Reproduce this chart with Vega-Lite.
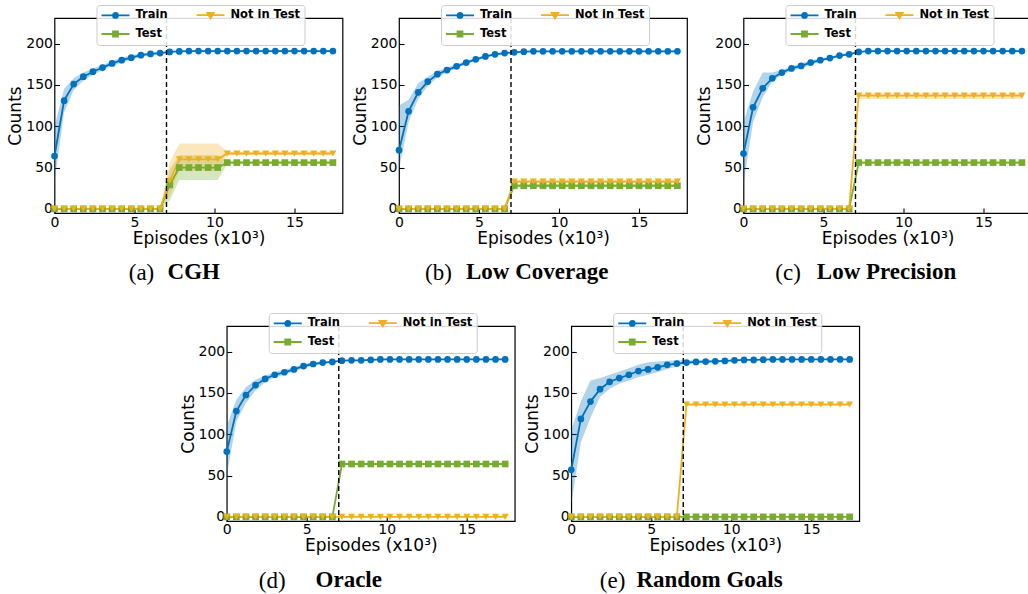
{
"$schema": "https://vega.github.io/schema/vega-lite/v6.json",
"padding": {"left": 5.3, "top": 3, "right": 5, "bottom": 5},
"config": {
 "view": {"stroke": "black", "strokeWidth": 1.2},
 "axis": {"domain": false, "grid": false, "tickSize": -5, "tickColor": "black", "tickWidth": 1.1, "labelPadding": 7, "labelFont": "DejaVu Sans", "labelFontSize": 14, "labelColor": "black", "labelFlush": false, "labelOverlap": false, "titleFont": "DejaVu Sans", "titleFontSize": 17, "titleFontWeight": "normal", "titleColor": "black"},
 "axisX": {"titlePadding": 1},
 "axisY": {"titlePadding": 1},
 "title": {"color": "black"}
},
"datasets": {
"a": [
{"s":"Train","x":0,"y":64,"l":32,"h":100},
{"s":"Train","x":0.6,"y":131,"l":117,"h":145},
{"s":"Train","x":1.2,"y":151,"l":144,"h":158},
{"s":"Train","x":1.8,"y":160,"l":155,"h":165},
{"s":"Train","x":2.4,"y":166,"l":162,"h":170},
{"s":"Train","x":3,"y":171,"l":168,"h":174},
{"s":"Train","x":3.6,"y":176,"l":173,"h":179},
{"s":"Train","x":4.2,"y":180,"l":177,"h":183},
{"s":"Train","x":4.8,"y":183,"l":180,"h":186},
{"s":"Train","x":5.4,"y":186,"l":184,"h":188},
{"s":"Train","x":6,"y":187.5,"l":186,"h":189},
{"s":"Train","x":6.6,"y":188.5,"l":187,"h":190},
{"s":"Train","x":7.2,"y":190,"l":189.5,"h":190.5},
{"s":"Train","x":7.8,"y":190.5,"l":190,"h":191},
{"s":"Train","x":8.4,"y":191,"l":190.5,"h":191.5},
{"s":"Train","x":9,"y":191,"l":190.5,"h":191.5},
{"s":"Train","x":9.6,"y":191,"l":190.5,"h":191.5},
{"s":"Train","x":10.2,"y":191,"l":190.5,"h":191.5},
{"s":"Train","x":10.8,"y":191,"l":190.5,"h":191.5},
{"s":"Train","x":11.4,"y":191,"l":190.5,"h":191.5},
{"s":"Train","x":12,"y":191,"l":190.5,"h":191.5},
{"s":"Train","x":12.6,"y":191,"l":190.5,"h":191.5},
{"s":"Train","x":13.2,"y":191,"l":190.5,"h":191.5},
{"s":"Train","x":13.8,"y":191,"l":190.5,"h":191.5},
{"s":"Train","x":14.4,"y":191,"l":190.5,"h":191.5},
{"s":"Train","x":15,"y":191,"l":190.5,"h":191.5},
{"s":"Train","x":15.6,"y":191,"l":190.5,"h":191.5},
{"s":"Train","x":16.2,"y":191,"l":190.5,"h":191.5},
{"s":"Train","x":16.8,"y":191,"l":190.5,"h":191.5},
{"s":"Train","x":17.4,"y":191,"l":190.5,"h":191.5},
{"s":"Test","x":0,"y":0,"l":0,"h":0},
{"s":"Test","x":0.6,"y":0,"l":0,"h":0},
{"s":"Test","x":1.2,"y":0,"l":0,"h":0},
{"s":"Test","x":1.8,"y":0,"l":0,"h":0},
{"s":"Test","x":2.4,"y":0,"l":0,"h":0},
{"s":"Test","x":3,"y":0,"l":0,"h":0},
{"s":"Test","x":3.6,"y":0,"l":0,"h":0},
{"s":"Test","x":4.2,"y":0,"l":0,"h":0},
{"s":"Test","x":4.8,"y":0,"l":0,"h":0},
{"s":"Test","x":5.4,"y":0,"l":0,"h":0},
{"s":"Test","x":6,"y":0,"l":0,"h":0},
{"s":"Test","x":6.6,"y":0,"l":0,"h":0},
{"s":"Test","x":7.2,"y":29,"l":10,"h":48},
{"s":"Test","x":7.8,"y":50,"l":35,"h":65},
{"s":"Test","x":8.4,"y":50,"l":35,"h":65},
{"s":"Test","x":9,"y":50,"l":35,"h":65},
{"s":"Test","x":9.6,"y":50,"l":35,"h":65},
{"s":"Test","x":10.2,"y":50,"l":35,"h":65},
{"s":"Test","x":10.8,"y":56,"l":54,"h":58},
{"s":"Test","x":11.4,"y":56,"l":54,"h":58},
{"s":"Test","x":12,"y":56,"l":54,"h":58},
{"s":"Test","x":12.6,"y":56,"l":54,"h":58},
{"s":"Test","x":13.2,"y":56,"l":54,"h":58},
{"s":"Test","x":13.8,"y":56,"l":54,"h":58},
{"s":"Test","x":14.4,"y":56,"l":54,"h":58},
{"s":"Test","x":15,"y":56,"l":54,"h":58},
{"s":"Test","x":15.6,"y":56,"l":54,"h":58},
{"s":"Test","x":16.2,"y":56,"l":54,"h":58},
{"s":"Test","x":16.8,"y":56,"l":54,"h":58},
{"s":"Test","x":17.4,"y":56,"l":54,"h":58},
{"s":"Not in Test","x":0,"y":0,"l":0,"h":0},
{"s":"Not in Test","x":0.6,"y":0,"l":0,"h":0},
{"s":"Not in Test","x":1.2,"y":0,"l":0,"h":0},
{"s":"Not in Test","x":1.8,"y":0,"l":0,"h":0},
{"s":"Not in Test","x":2.4,"y":0,"l":0,"h":0},
{"s":"Not in Test","x":3,"y":0,"l":0,"h":0},
{"s":"Not in Test","x":3.6,"y":0,"l":0,"h":0},
{"s":"Not in Test","x":4.2,"y":0,"l":0,"h":0},
{"s":"Not in Test","x":4.8,"y":0,"l":0,"h":0},
{"s":"Not in Test","x":5.4,"y":0,"l":0,"h":0},
{"s":"Not in Test","x":6,"y":0,"l":0,"h":0},
{"s":"Not in Test","x":6.6,"y":0,"l":0,"h":0},
{"s":"Not in Test","x":7.2,"y":34,"l":15,"h":56},
{"s":"Not in Test","x":7.8,"y":60,"l":46,"h":79},
{"s":"Not in Test","x":8.4,"y":60,"l":46,"h":79},
{"s":"Not in Test","x":9,"y":60,"l":46,"h":79},
{"s":"Not in Test","x":9.6,"y":60,"l":46,"h":79},
{"s":"Not in Test","x":10.2,"y":60,"l":46,"h":79},
{"s":"Not in Test","x":10.8,"y":67,"l":65,"h":69},
{"s":"Not in Test","x":11.4,"y":67,"l":65,"h":69},
{"s":"Not in Test","x":12,"y":67,"l":65,"h":69},
{"s":"Not in Test","x":12.6,"y":67,"l":65,"h":69},
{"s":"Not in Test","x":13.2,"y":67,"l":65,"h":69},
{"s":"Not in Test","x":13.8,"y":67,"l":65,"h":69},
{"s":"Not in Test","x":14.4,"y":67,"l":65,"h":69},
{"s":"Not in Test","x":15,"y":67,"l":65,"h":69},
{"s":"Not in Test","x":15.6,"y":67,"l":65,"h":69},
{"s":"Not in Test","x":16.2,"y":67,"l":65,"h":69},
{"s":"Not in Test","x":16.8,"y":67,"l":65,"h":69},
{"s":"Not in Test","x":17.4,"y":67,"l":65,"h":69}
],
"b": [
{"s":"Train","x":0,"y":71,"l":48,"h":125},
{"s":"Train","x":0.6,"y":118,"l":105,"h":132},
{"s":"Train","x":1.2,"y":141,"l":133,"h":152},
{"s":"Train","x":1.8,"y":154,"l":149,"h":160},
{"s":"Train","x":2.4,"y":163,"l":159,"h":167},
{"s":"Train","x":3,"y":168,"l":165,"h":171},
{"s":"Train","x":3.6,"y":172.5,"l":170,"h":175},
{"s":"Train","x":4.2,"y":177,"l":175,"h":179},
{"s":"Train","x":4.8,"y":181,"l":179,"h":183},
{"s":"Train","x":5.4,"y":184.5,"l":183,"h":186},
{"s":"Train","x":6,"y":187,"l":185.5,"h":188.5},
{"s":"Train","x":6.6,"y":188.5,"l":187.5,"h":189.5},
{"s":"Train","x":7.2,"y":189.5,"l":189,"h":190},
{"s":"Train","x":7.8,"y":190.3,"l":189.8,"h":190.8},
{"s":"Train","x":8.4,"y":190.7,"l":190.2,"h":191.2},
{"s":"Train","x":9,"y":190.7,"l":190.2,"h":191.2},
{"s":"Train","x":9.6,"y":190.7,"l":190.2,"h":191.2},
{"s":"Train","x":10.2,"y":190.7,"l":190.2,"h":191.2},
{"s":"Train","x":10.8,"y":190.7,"l":190.2,"h":191.2},
{"s":"Train","x":11.4,"y":190.7,"l":190.2,"h":191.2},
{"s":"Train","x":12,"y":190.7,"l":190.2,"h":191.2},
{"s":"Train","x":12.6,"y":190.7,"l":190.2,"h":191.2},
{"s":"Train","x":13.2,"y":190.7,"l":190.2,"h":191.2},
{"s":"Train","x":13.8,"y":190.7,"l":190.2,"h":191.2},
{"s":"Train","x":14.4,"y":190.7,"l":190.2,"h":191.2},
{"s":"Train","x":15,"y":190.7,"l":190.2,"h":191.2},
{"s":"Train","x":15.6,"y":190.7,"l":190.2,"h":191.2},
{"s":"Train","x":16.2,"y":190.7,"l":190.2,"h":191.2},
{"s":"Train","x":16.8,"y":190.7,"l":190.2,"h":191.2},
{"s":"Train","x":17.4,"y":190.7,"l":190.2,"h":191.2},
{"s":"Test","x":0,"y":0,"l":0,"h":0},
{"s":"Test","x":0.6,"y":0,"l":0,"h":0},
{"s":"Test","x":1.2,"y":0,"l":0,"h":0},
{"s":"Test","x":1.8,"y":0,"l":0,"h":0},
{"s":"Test","x":2.4,"y":0,"l":0,"h":0},
{"s":"Test","x":3,"y":0,"l":0,"h":0},
{"s":"Test","x":3.6,"y":0,"l":0,"h":0},
{"s":"Test","x":4.2,"y":0,"l":0,"h":0},
{"s":"Test","x":4.8,"y":0,"l":0,"h":0},
{"s":"Test","x":5.4,"y":0,"l":0,"h":0},
{"s":"Test","x":6,"y":0,"l":0,"h":0},
{"s":"Test","x":6.6,"y":0,"l":0,"h":0},
{"s":"Test","x":7.2,"y":28,"l":26,"h":30},
{"s":"Test","x":7.8,"y":28,"l":26,"h":30},
{"s":"Test","x":8.4,"y":28,"l":26,"h":30},
{"s":"Test","x":9,"y":28,"l":26,"h":30},
{"s":"Test","x":9.6,"y":28,"l":26,"h":30},
{"s":"Test","x":10.2,"y":28,"l":26,"h":30},
{"s":"Test","x":10.8,"y":28,"l":26,"h":30},
{"s":"Test","x":11.4,"y":28,"l":26,"h":30},
{"s":"Test","x":12,"y":28,"l":26,"h":30},
{"s":"Test","x":12.6,"y":28,"l":26,"h":30},
{"s":"Test","x":13.2,"y":28,"l":26,"h":30},
{"s":"Test","x":13.8,"y":28,"l":26,"h":30},
{"s":"Test","x":14.4,"y":28,"l":26,"h":30},
{"s":"Test","x":15,"y":28,"l":26,"h":30},
{"s":"Test","x":15.6,"y":28,"l":26,"h":30},
{"s":"Test","x":16.2,"y":28,"l":26,"h":30},
{"s":"Test","x":16.8,"y":28,"l":26,"h":30},
{"s":"Test","x":17.4,"y":28,"l":26,"h":30},
{"s":"Not in Test","x":0,"y":0,"l":0,"h":0},
{"s":"Not in Test","x":0.6,"y":0,"l":0,"h":0},
{"s":"Not in Test","x":1.2,"y":0,"l":0,"h":0},
{"s":"Not in Test","x":1.8,"y":0,"l":0,"h":0},
{"s":"Not in Test","x":2.4,"y":0,"l":0,"h":0},
{"s":"Not in Test","x":3,"y":0,"l":0,"h":0},
{"s":"Not in Test","x":3.6,"y":0,"l":0,"h":0},
{"s":"Not in Test","x":4.2,"y":0,"l":0,"h":0},
{"s":"Not in Test","x":4.8,"y":0,"l":0,"h":0},
{"s":"Not in Test","x":5.4,"y":0,"l":0,"h":0},
{"s":"Not in Test","x":6,"y":0,"l":0,"h":0},
{"s":"Not in Test","x":6.6,"y":0,"l":0,"h":0},
{"s":"Not in Test","x":7.2,"y":33,"l":31,"h":35},
{"s":"Not in Test","x":7.8,"y":33,"l":31,"h":35},
{"s":"Not in Test","x":8.4,"y":33,"l":31,"h":35},
{"s":"Not in Test","x":9,"y":33,"l":31,"h":35},
{"s":"Not in Test","x":9.6,"y":33,"l":31,"h":35},
{"s":"Not in Test","x":10.2,"y":33,"l":31,"h":35},
{"s":"Not in Test","x":10.8,"y":33,"l":31,"h":35},
{"s":"Not in Test","x":11.4,"y":33,"l":31,"h":35},
{"s":"Not in Test","x":12,"y":33,"l":31,"h":35},
{"s":"Not in Test","x":12.6,"y":33,"l":31,"h":35},
{"s":"Not in Test","x":13.2,"y":33,"l":31,"h":35},
{"s":"Not in Test","x":13.8,"y":33,"l":31,"h":35},
{"s":"Not in Test","x":14.4,"y":33,"l":31,"h":35},
{"s":"Not in Test","x":15,"y":33,"l":31,"h":35},
{"s":"Not in Test","x":15.6,"y":33,"l":31,"h":35},
{"s":"Not in Test","x":16.2,"y":33,"l":31,"h":35},
{"s":"Not in Test","x":16.8,"y":33,"l":31,"h":35},
{"s":"Not in Test","x":17.4,"y":33,"l":31,"h":35}
],
"c": [
{"s":"Train","x":0,"y":67,"l":30,"h":105},
{"s":"Train","x":0.6,"y":123,"l":105,"h":142},
{"s":"Train","x":1.2,"y":146,"l":135,"h":165},
{"s":"Train","x":1.8,"y":158,"l":154,"h":165},
{"s":"Train","x":2.4,"y":165,"l":162,"h":168},
{"s":"Train","x":3,"y":170,"l":167,"h":173},
{"s":"Train","x":3.6,"y":173,"l":170,"h":176},
{"s":"Train","x":4.2,"y":177,"l":174,"h":180},
{"s":"Train","x":4.8,"y":180,"l":178,"h":182},
{"s":"Train","x":5.4,"y":182.5,"l":181,"h":184},
{"s":"Train","x":6,"y":185.5,"l":184,"h":187},
{"s":"Train","x":6.6,"y":187,"l":186,"h":188.5},
{"s":"Train","x":7.2,"y":190,"l":189.5,"h":190.5},
{"s":"Train","x":7.8,"y":191,"l":190.5,"h":191.5},
{"s":"Train","x":8.4,"y":191,"l":190.5,"h":191.5},
{"s":"Train","x":9,"y":191,"l":190.5,"h":191.5},
{"s":"Train","x":9.6,"y":191,"l":190.5,"h":191.5},
{"s":"Train","x":10.2,"y":191,"l":190.5,"h":191.5},
{"s":"Train","x":10.8,"y":191,"l":190.5,"h":191.5},
{"s":"Train","x":11.4,"y":191,"l":190.5,"h":191.5},
{"s":"Train","x":12,"y":191,"l":190.5,"h":191.5},
{"s":"Train","x":12.6,"y":191,"l":190.5,"h":191.5},
{"s":"Train","x":13.2,"y":191,"l":190.5,"h":191.5},
{"s":"Train","x":13.8,"y":191,"l":190.5,"h":191.5},
{"s":"Train","x":14.4,"y":191,"l":190.5,"h":191.5},
{"s":"Train","x":15,"y":191,"l":190.5,"h":191.5},
{"s":"Train","x":15.6,"y":191,"l":190.5,"h":191.5},
{"s":"Train","x":16.2,"y":191,"l":190.5,"h":191.5},
{"s":"Train","x":16.8,"y":191,"l":190.5,"h":191.5},
{"s":"Train","x":17.4,"y":191,"l":190.5,"h":191.5},
{"s":"Test","x":0,"y":0,"l":0,"h":0},
{"s":"Test","x":0.6,"y":0,"l":0,"h":0},
{"s":"Test","x":1.2,"y":0,"l":0,"h":0},
{"s":"Test","x":1.8,"y":0,"l":0,"h":0},
{"s":"Test","x":2.4,"y":0,"l":0,"h":0},
{"s":"Test","x":3,"y":0,"l":0,"h":0},
{"s":"Test","x":3.6,"y":0,"l":0,"h":0},
{"s":"Test","x":4.2,"y":0,"l":0,"h":0},
{"s":"Test","x":4.8,"y":0,"l":0,"h":0},
{"s":"Test","x":5.4,"y":0,"l":0,"h":0},
{"s":"Test","x":6,"y":0,"l":0,"h":0},
{"s":"Test","x":6.6,"y":0,"l":0,"h":0},
{"s":"Test","x":7.2,"y":56,"l":54.5,"h":57.5},
{"s":"Test","x":7.8,"y":56,"l":54.5,"h":57.5},
{"s":"Test","x":8.4,"y":56,"l":54.5,"h":57.5},
{"s":"Test","x":9,"y":56,"l":54.5,"h":57.5},
{"s":"Test","x":9.6,"y":56,"l":54.5,"h":57.5},
{"s":"Test","x":10.2,"y":56,"l":54.5,"h":57.5},
{"s":"Test","x":10.8,"y":56,"l":54.5,"h":57.5},
{"s":"Test","x":11.4,"y":56,"l":54.5,"h":57.5},
{"s":"Test","x":12,"y":56,"l":54.5,"h":57.5},
{"s":"Test","x":12.6,"y":56,"l":54.5,"h":57.5},
{"s":"Test","x":13.2,"y":56,"l":54.5,"h":57.5},
{"s":"Test","x":13.8,"y":56,"l":54.5,"h":57.5},
{"s":"Test","x":14.4,"y":56,"l":54.5,"h":57.5},
{"s":"Test","x":15,"y":56,"l":54.5,"h":57.5},
{"s":"Test","x":15.6,"y":56,"l":54.5,"h":57.5},
{"s":"Test","x":16.2,"y":56,"l":54.5,"h":57.5},
{"s":"Test","x":16.8,"y":56,"l":54.5,"h":57.5},
{"s":"Test","x":17.4,"y":56,"l":54.5,"h":57.5},
{"s":"Not in Test","x":0,"y":0,"l":0,"h":0},
{"s":"Not in Test","x":0.6,"y":0,"l":0,"h":0},
{"s":"Not in Test","x":1.2,"y":0,"l":0,"h":0},
{"s":"Not in Test","x":1.8,"y":0,"l":0,"h":0},
{"s":"Not in Test","x":2.4,"y":0,"l":0,"h":0},
{"s":"Not in Test","x":3,"y":0,"l":0,"h":0},
{"s":"Not in Test","x":3.6,"y":0,"l":0,"h":0},
{"s":"Not in Test","x":4.2,"y":0,"l":0,"h":0},
{"s":"Not in Test","x":4.8,"y":0,"l":0,"h":0},
{"s":"Not in Test","x":5.4,"y":0,"l":0,"h":0},
{"s":"Not in Test","x":6,"y":0,"l":0,"h":0},
{"s":"Not in Test","x":6.6,"y":0,"l":0,"h":0},
{"s":"Not in Test","x":7.2,"y":137,"l":133,"h":140},
{"s":"Not in Test","x":7.8,"y":137,"l":133,"h":140},
{"s":"Not in Test","x":8.4,"y":137,"l":133,"h":140},
{"s":"Not in Test","x":9,"y":137,"l":133,"h":140},
{"s":"Not in Test","x":9.6,"y":137,"l":133,"h":140},
{"s":"Not in Test","x":10.2,"y":137,"l":133,"h":140},
{"s":"Not in Test","x":10.8,"y":137,"l":133,"h":140},
{"s":"Not in Test","x":11.4,"y":137,"l":133,"h":140},
{"s":"Not in Test","x":12,"y":137,"l":133,"h":140},
{"s":"Not in Test","x":12.6,"y":137,"l":133,"h":140},
{"s":"Not in Test","x":13.2,"y":137,"l":133,"h":140},
{"s":"Not in Test","x":13.8,"y":137,"l":133,"h":140},
{"s":"Not in Test","x":14.4,"y":137,"l":133,"h":140},
{"s":"Not in Test","x":15,"y":137,"l":133,"h":140},
{"s":"Not in Test","x":15.6,"y":137,"l":133,"h":140},
{"s":"Not in Test","x":16.2,"y":137,"l":133,"h":140},
{"s":"Not in Test","x":16.8,"y":137,"l":133,"h":140},
{"s":"Not in Test","x":17.4,"y":137,"l":133,"h":140}
],
"d": [
{"s":"Train","x":0,"y":79,"l":50,"h":110},
{"s":"Train","x":0.6,"y":128,"l":115,"h":142},
{"s":"Train","x":1.2,"y":147.5,"l":138,"h":157},
{"s":"Train","x":1.8,"y":159.5,"l":153,"h":166},
{"s":"Train","x":2.4,"y":167,"l":163,"h":171},
{"s":"Train","x":3,"y":172,"l":169,"h":175},
{"s":"Train","x":3.6,"y":175,"l":172,"h":178},
{"s":"Train","x":4.2,"y":178.5,"l":176,"h":181},
{"s":"Train","x":4.8,"y":182.5,"l":180,"h":185},
{"s":"Train","x":5.4,"y":185,"l":183,"h":187},
{"s":"Train","x":6,"y":186.7,"l":185,"h":188},
{"s":"Train","x":6.6,"y":187.5,"l":186.5,"h":188.5},
{"s":"Train","x":7.2,"y":189,"l":188.3,"h":189.7},
{"s":"Train","x":7.8,"y":189.5,"l":188.8,"h":190.2},
{"s":"Train","x":8.4,"y":189.5,"l":188.8,"h":190.2},
{"s":"Train","x":9,"y":190,"l":189.3,"h":190.7},
{"s":"Train","x":9.6,"y":190.5,"l":189.8,"h":191.2},
{"s":"Train","x":10.2,"y":190.5,"l":189.8,"h":191.2},
{"s":"Train","x":10.8,"y":190.5,"l":189.8,"h":191.2},
{"s":"Train","x":11.4,"y":190.5,"l":189.8,"h":191.2},
{"s":"Train","x":12,"y":190.5,"l":189.8,"h":191.2},
{"s":"Train","x":12.6,"y":190.5,"l":189.8,"h":191.2},
{"s":"Train","x":13.2,"y":190.5,"l":189.8,"h":191.2},
{"s":"Train","x":13.8,"y":190.5,"l":189.8,"h":191.2},
{"s":"Train","x":14.4,"y":190.5,"l":189.8,"h":191.2},
{"s":"Train","x":15,"y":190.5,"l":189.8,"h":191.2},
{"s":"Train","x":15.6,"y":190.5,"l":189.8,"h":191.2},
{"s":"Train","x":16.2,"y":190.5,"l":189.8,"h":191.2},
{"s":"Train","x":16.8,"y":190.5,"l":189.8,"h":191.2},
{"s":"Train","x":17.4,"y":190.5,"l":189.8,"h":191.2},
{"s":"Test","x":0,"y":0,"l":0,"h":0},
{"s":"Test","x":0.6,"y":0,"l":0,"h":0},
{"s":"Test","x":1.2,"y":0,"l":0,"h":0},
{"s":"Test","x":1.8,"y":0,"l":0,"h":0},
{"s":"Test","x":2.4,"y":0,"l":0,"h":0},
{"s":"Test","x":3,"y":0,"l":0,"h":0},
{"s":"Test","x":3.6,"y":0,"l":0,"h":0},
{"s":"Test","x":4.2,"y":0,"l":0,"h":0},
{"s":"Test","x":4.8,"y":0,"l":0,"h":0},
{"s":"Test","x":5.4,"y":0,"l":0,"h":0},
{"s":"Test","x":6,"y":0,"l":0,"h":0},
{"s":"Test","x":6.6,"y":0,"l":0,"h":0},
{"s":"Test","x":7.2,"y":64,"l":63,"h":65},
{"s":"Test","x":7.8,"y":64,"l":63,"h":65},
{"s":"Test","x":8.4,"y":64,"l":63,"h":65},
{"s":"Test","x":9,"y":64,"l":63,"h":65},
{"s":"Test","x":9.6,"y":64,"l":63,"h":65},
{"s":"Test","x":10.2,"y":64,"l":63,"h":65},
{"s":"Test","x":10.8,"y":64,"l":63,"h":65},
{"s":"Test","x":11.4,"y":64,"l":63,"h":65},
{"s":"Test","x":12,"y":64,"l":63,"h":65},
{"s":"Test","x":12.6,"y":64,"l":63,"h":65},
{"s":"Test","x":13.2,"y":64,"l":63,"h":65},
{"s":"Test","x":13.8,"y":64,"l":63,"h":65},
{"s":"Test","x":14.4,"y":64,"l":63,"h":65},
{"s":"Test","x":15,"y":64,"l":63,"h":65},
{"s":"Test","x":15.6,"y":64,"l":63,"h":65},
{"s":"Test","x":16.2,"y":64,"l":63,"h":65},
{"s":"Test","x":16.8,"y":64,"l":63,"h":65},
{"s":"Test","x":17.4,"y":64,"l":63,"h":65},
{"s":"Not in Test","x":0,"y":0,"l":0,"h":0},
{"s":"Not in Test","x":0.6,"y":0,"l":0,"h":0},
{"s":"Not in Test","x":1.2,"y":0,"l":0,"h":0},
{"s":"Not in Test","x":1.8,"y":0,"l":0,"h":0},
{"s":"Not in Test","x":2.4,"y":0,"l":0,"h":0},
{"s":"Not in Test","x":3,"y":0,"l":0,"h":0},
{"s":"Not in Test","x":3.6,"y":0,"l":0,"h":0},
{"s":"Not in Test","x":4.2,"y":0,"l":0,"h":0},
{"s":"Not in Test","x":4.8,"y":0,"l":0,"h":0},
{"s":"Not in Test","x":5.4,"y":0,"l":0,"h":0},
{"s":"Not in Test","x":6,"y":0,"l":0,"h":0},
{"s":"Not in Test","x":6.6,"y":0,"l":0,"h":0},
{"s":"Not in Test","x":7.2,"y":0,"l":0,"h":0},
{"s":"Not in Test","x":7.8,"y":0,"l":0,"h":0},
{"s":"Not in Test","x":8.4,"y":0,"l":0,"h":0},
{"s":"Not in Test","x":9,"y":0,"l":0,"h":0},
{"s":"Not in Test","x":9.6,"y":0,"l":0,"h":0},
{"s":"Not in Test","x":10.2,"y":0,"l":0,"h":0},
{"s":"Not in Test","x":10.8,"y":0,"l":0,"h":0},
{"s":"Not in Test","x":11.4,"y":0,"l":0,"h":0},
{"s":"Not in Test","x":12,"y":0,"l":0,"h":0},
{"s":"Not in Test","x":12.6,"y":0,"l":0,"h":0},
{"s":"Not in Test","x":13.2,"y":0,"l":0,"h":0},
{"s":"Not in Test","x":13.8,"y":0,"l":0,"h":0},
{"s":"Not in Test","x":14.4,"y":0,"l":0,"h":0},
{"s":"Not in Test","x":15,"y":0,"l":0,"h":0},
{"s":"Not in Test","x":15.6,"y":0,"l":0,"h":0},
{"s":"Not in Test","x":16.2,"y":0,"l":0,"h":0},
{"s":"Not in Test","x":16.8,"y":0,"l":0,"h":0},
{"s":"Not in Test","x":17.4,"y":0,"l":0,"h":0}
],
"e": [
{"s":"Train","x":0,"y":57,"l":15,"h":105},
{"s":"Train","x":0.6,"y":118.5,"l":90,"h":140},
{"s":"Train","x":1.2,"y":139.5,"l":120,"h":165},
{"s":"Train","x":1.8,"y":154.5,"l":145,"h":168},
{"s":"Train","x":2.4,"y":163.5,"l":155,"h":172},
{"s":"Train","x":3,"y":168,"l":161,"h":176},
{"s":"Train","x":3.6,"y":172,"l":165,"h":180},
{"s":"Train","x":4.2,"y":176.5,"l":169,"h":184},
{"s":"Train","x":4.8,"y":178.5,"l":172,"h":187},
{"s":"Train","x":5.4,"y":181,"l":175,"h":188},
{"s":"Train","x":6,"y":184,"l":179,"h":189},
{"s":"Train","x":6.6,"y":185.5,"l":182,"h":189.5},
{"s":"Train","x":7.2,"y":186.7,"l":184.5,"h":189.5},
{"s":"Train","x":7.8,"y":187.5,"l":186,"h":189.5},
{"s":"Train","x":8.4,"y":188,"l":186.5,"h":189.8},
{"s":"Train","x":9,"y":188.3,"l":187,"h":190},
{"s":"Train","x":9.6,"y":188.7,"l":187.5,"h":190},
{"s":"Train","x":10.2,"y":189.5,"l":188.5,"h":190.5},
{"s":"Train","x":10.8,"y":190,"l":189.3,"h":190.7},
{"s":"Train","x":11.4,"y":190,"l":189.3,"h":190.7},
{"s":"Train","x":12,"y":190.3,"l":189.6,"h":191},
{"s":"Train","x":12.6,"y":190.5,"l":189.8,"h":191.2},
{"s":"Train","x":13.2,"y":190.5,"l":189.8,"h":191.2},
{"s":"Train","x":13.8,"y":190.5,"l":189.8,"h":191.2},
{"s":"Train","x":14.4,"y":190.5,"l":189.8,"h":191.2},
{"s":"Train","x":15,"y":190.5,"l":189.8,"h":191.2},
{"s":"Train","x":15.6,"y":190.5,"l":189.8,"h":191.2},
{"s":"Train","x":16.2,"y":190.5,"l":189.8,"h":191.2},
{"s":"Train","x":16.8,"y":190.5,"l":189.8,"h":191.2},
{"s":"Train","x":17.4,"y":190.5,"l":189.8,"h":191.2},
{"s":"Test","x":0,"y":0,"l":0,"h":0},
{"s":"Test","x":0.6,"y":0,"l":0,"h":0},
{"s":"Test","x":1.2,"y":0,"l":0,"h":0},
{"s":"Test","x":1.8,"y":0,"l":0,"h":0},
{"s":"Test","x":2.4,"y":0,"l":0,"h":0},
{"s":"Test","x":3,"y":0,"l":0,"h":0},
{"s":"Test","x":3.6,"y":0,"l":0,"h":0},
{"s":"Test","x":4.2,"y":0,"l":0,"h":0},
{"s":"Test","x":4.8,"y":0,"l":0,"h":0},
{"s":"Test","x":5.4,"y":0,"l":0,"h":0},
{"s":"Test","x":6,"y":0,"l":0,"h":0},
{"s":"Test","x":6.6,"y":0,"l":0,"h":0},
{"s":"Test","x":7.2,"y":0,"l":0,"h":0},
{"s":"Test","x":7.8,"y":0,"l":0,"h":0},
{"s":"Test","x":8.4,"y":0,"l":0,"h":0},
{"s":"Test","x":9,"y":0,"l":0,"h":0},
{"s":"Test","x":9.6,"y":0,"l":0,"h":0},
{"s":"Test","x":10.2,"y":0,"l":0,"h":0},
{"s":"Test","x":10.8,"y":0,"l":0,"h":0},
{"s":"Test","x":11.4,"y":0,"l":0,"h":0},
{"s":"Test","x":12,"y":0,"l":0,"h":0},
{"s":"Test","x":12.6,"y":0,"l":0,"h":0},
{"s":"Test","x":13.2,"y":0,"l":0,"h":0},
{"s":"Test","x":13.8,"y":0,"l":0,"h":0},
{"s":"Test","x":14.4,"y":0,"l":0,"h":0},
{"s":"Test","x":15,"y":0,"l":0,"h":0},
{"s":"Test","x":15.6,"y":0,"l":0,"h":0},
{"s":"Test","x":16.2,"y":0,"l":0,"h":0},
{"s":"Test","x":16.8,"y":0,"l":0,"h":0},
{"s":"Test","x":17.4,"y":0,"l":0,"h":0},
{"s":"Not in Test","x":0,"y":0,"l":0,"h":0},
{"s":"Not in Test","x":0.6,"y":0,"l":0,"h":0},
{"s":"Not in Test","x":1.2,"y":0,"l":0,"h":0},
{"s":"Not in Test","x":1.8,"y":0,"l":0,"h":0},
{"s":"Not in Test","x":2.4,"y":0,"l":0,"h":0},
{"s":"Not in Test","x":3,"y":0,"l":0,"h":0},
{"s":"Not in Test","x":3.6,"y":0,"l":0,"h":0},
{"s":"Not in Test","x":4.2,"y":0,"l":0,"h":0},
{"s":"Not in Test","x":4.8,"y":0,"l":0,"h":0},
{"s":"Not in Test","x":5.4,"y":0,"l":0,"h":0},
{"s":"Not in Test","x":6,"y":0,"l":0,"h":0},
{"s":"Not in Test","x":6.6,"y":0,"l":0,"h":0},
{"s":"Not in Test","x":7.2,"y":136,"l":135,"h":137},
{"s":"Not in Test","x":7.8,"y":136,"l":135,"h":137},
{"s":"Not in Test","x":8.4,"y":136,"l":135,"h":137},
{"s":"Not in Test","x":9,"y":136,"l":135,"h":137},
{"s":"Not in Test","x":9.6,"y":136,"l":135,"h":137},
{"s":"Not in Test","x":10.2,"y":136,"l":135,"h":137},
{"s":"Not in Test","x":10.8,"y":136,"l":135,"h":137},
{"s":"Not in Test","x":11.4,"y":136,"l":135,"h":137},
{"s":"Not in Test","x":12,"y":136,"l":135,"h":137},
{"s":"Not in Test","x":12.6,"y":136,"l":135,"h":137},
{"s":"Not in Test","x":13.2,"y":136,"l":135,"h":137},
{"s":"Not in Test","x":13.8,"y":136,"l":135,"h":137},
{"s":"Not in Test","x":14.4,"y":136,"l":135,"h":137},
{"s":"Not in Test","x":15,"y":136,"l":135,"h":137},
{"s":"Not in Test","x":15.6,"y":136,"l":135,"h":137},
{"s":"Not in Test","x":16.2,"y":136,"l":135,"h":137},
{"s":"Not in Test","x":16.8,"y":136,"l":135,"h":137},
{"s":"Not in Test","x":17.4,"y":136,"l":135,"h":137}
]
},
"vconcat": [
{"hconcat": [
 {"vconcat": [{
  "data": {"name": "a"}, "width": 288, "height": 195,
  "title": {"text": "CGH", "orient": "bottom", "anchor": "middle", "frame": "group", "dx": -4.8, "offset": 15, "font": "Liberation Serif", "fontSize": 23, "fontWeight": "bold", "color": "black"},
  "encoding": {
   "x": {"field": "x", "type": "quantitative", "scale": {"domain": [0, 18], "nice": false, "zero": false}, "axis": {"values": [0, 5, 10, 15], "title": "Episodes (x10³)"}},
   "color": {"field": "s", "type": "nominal", "scale": {"domain": ["Train", "Not in Test", "Test"], "range": ["#0072BD", "#EDB120", "#77AC30"]},
    "legend": {"title": null, "values": ["Train", "Test", "Not in Test"], "orient": "none", "legendX": 42, "legendY": -13, "columns": 2, "symbolSize": 100, "symbolStrokeWidth": 1.8, "symbolOpacity": 1,
     "symbolType": {"expr": "datum.value === 'Train' ? 'M-1,0L4.6,0M1.3,0A0.5,0.5 0 1,0 2.3,0A0.5,0.5 0 1,0 1.3,0Z' : datum.value === 'Test' ? 'M-1,0L4.6,0M1.3,-0.5L2.3,-0.5L2.3,0.5L1.3,0.5Z' : 'M-1,0L4.6,0M1.15,-0.45L2.45,-0.45L1.8,0.6Z'"},
     "symbolStrokeColor": {"expr": "datum.value === 'Train' ? '#0072BD' : datum.value === 'Test' ? '#77AC30' : '#EDB120'"},
     "symbolFillColor": {"expr": "datum.value === 'Train' ? '#0072BD' : datum.value === 'Test' ? '#77AC30' : '#EDB120'"},
     "labelFont": "DejaVu Sans", "labelFontSize": 11.5, "labelFontWeight": "bold", "labelColor": "black", "labelOffset": 23, "columnPadding": 24, "rowPadding": 5, "padding": 4, "fillColor": "rgba(255,255,255,0.85)", "strokeColor": "#cccccc", "cornerRadius": 3}}
  },
  "layer": [
   {"mark": {"type": "area", "opacity": 0.3}, "encoding": {"y": {"field": "l", "type": "quantitative", "title": "Counts", "stack": null, "scale": {"domain": [-5, 231], "nice": false, "zero": false}, "axis": {"values": [0, 50, 100, 150, 200]}}, "y2": {"field": "h"}}},
   {"mark": {"type": "line", "strokeWidth": 1.8}, "encoding": {"y": {"field": "y", "type": "quantitative", "title": "Counts"}}},
   {"transform": [{"filter": "datum.s === 'Train'"}], "mark": {"type": "point", "shape": "circle", "filled": true, "size": 45, "opacity": 1}, "encoding": {"y": {"field": "y", "type": "quantitative", "title": "Counts"}}},
   {"transform": [{"filter": "datum.s === 'Test'"}], "mark": {"type": "point", "shape": "square", "filled": true, "size": 45, "opacity": 1}, "encoding": {"y": {"field": "y", "type": "quantitative", "title": "Counts"}}},
   {"transform": [{"filter": "datum.s === 'Not in Test'"}], "mark": {"type": "point", "shape": "triangle-down", "filled": true, "size": 50, "opacity": 1}, "encoding": {"y": {"field": "y", "type": "quantitative", "title": "Counts"}}},
   {"data": {"values": [{"v": 7}]}, "mark": {"type": "rule", "strokeDash": [5, 3], "strokeWidth": 1.4}, "encoding": {"x": {"field": "v", "type": "quantitative"}, "color": {"value": "black"}}}
  ]}],
  "title": {"text": "(a)", "orient": "bottom", "anchor": "middle", "frame": "group", "dx": 87, "dy": -23, "offset": 0, "font": "Liberation Serif", "fontSize": 23, "fontWeight": "normal", "color": "black"},
  "resolve": {"legend": {"color": "independent"}}
 },
 {"vconcat": [{
  "data": {"name": "b"}, "width": 288, "height": 195,
  "title": {"text": "Low Coverage", "orient": "bottom", "anchor": "middle", "frame": "group", "dx": -5.8, "offset": 15, "font": "Liberation Serif", "fontSize": 23, "fontWeight": "bold", "color": "black"},
  "encoding": {
   "x": {"field": "x", "type": "quantitative", "scale": {"domain": [0, 18], "nice": false, "zero": false}, "axis": {"values": [0, 5, 10, 15], "title": "Episodes (x10³)"}},
   "color": {"field": "s", "type": "nominal", "scale": {"domain": ["Train", "Not in Test", "Test"], "range": ["#0072BD", "#EDB120", "#77AC30"]},
    "legend": {"title": null, "values": ["Train", "Test", "Not in Test"], "orient": "none", "legendX": 42, "legendY": -13, "columns": 2, "symbolSize": 100, "symbolStrokeWidth": 1.8, "symbolOpacity": 1,
     "symbolType": {"expr": "datum.value === 'Train' ? 'M-1,0L4.6,0M1.3,0A0.5,0.5 0 1,0 2.3,0A0.5,0.5 0 1,0 1.3,0Z' : datum.value === 'Test' ? 'M-1,0L4.6,0M1.3,-0.5L2.3,-0.5L2.3,0.5L1.3,0.5Z' : 'M-1,0L4.6,0M1.15,-0.45L2.45,-0.45L1.8,0.6Z'"},
     "symbolStrokeColor": {"expr": "datum.value === 'Train' ? '#0072BD' : datum.value === 'Test' ? '#77AC30' : '#EDB120'"},
     "symbolFillColor": {"expr": "datum.value === 'Train' ? '#0072BD' : datum.value === 'Test' ? '#77AC30' : '#EDB120'"},
     "labelFont": "DejaVu Sans", "labelFontSize": 11.5, "labelFontWeight": "bold", "labelColor": "black", "labelOffset": 23, "columnPadding": 24, "rowPadding": 5, "padding": 4, "fillColor": "rgba(255,255,255,0.85)", "strokeColor": "#cccccc", "cornerRadius": 3}}
  },
  "layer": [
   {"mark": {"type": "area", "opacity": 0.3}, "encoding": {"y": {"field": "l", "type": "quantitative", "title": "Counts", "stack": null, "scale": {"domain": [-5, 231], "nice": false, "zero": false}, "axis": {"values": [0, 50, 100, 150, 200]}}, "y2": {"field": "h"}}},
   {"mark": {"type": "line", "strokeWidth": 1.8}, "encoding": {"y": {"field": "y", "type": "quantitative", "title": "Counts"}}},
   {"transform": [{"filter": "datum.s === 'Train'"}], "mark": {"type": "point", "shape": "circle", "filled": true, "size": 45, "opacity": 1}, "encoding": {"y": {"field": "y", "type": "quantitative", "title": "Counts"}}},
   {"transform": [{"filter": "datum.s === 'Test'"}], "mark": {"type": "point", "shape": "square", "filled": true, "size": 45, "opacity": 1}, "encoding": {"y": {"field": "y", "type": "quantitative", "title": "Counts"}}},
   {"transform": [{"filter": "datum.s === 'Not in Test'"}], "mark": {"type": "point", "shape": "triangle-down", "filled": true, "size": 50, "opacity": 1}, "encoding": {"y": {"field": "y", "type": "quantitative", "title": "Counts"}}},
   {"data": {"values": [{"v": 7}]}, "mark": {"type": "rule", "strokeDash": [5, 3], "strokeWidth": 1.4}, "encoding": {"x": {"field": "v", "type": "quantitative"}, "color": {"value": "black"}}}
  ]}],
  "title": {"text": "(b)", "orient": "bottom", "anchor": "middle", "frame": "group", "dx": 39.5, "dy": -23, "offset": 0, "font": "Liberation Serif", "fontSize": 23, "fontWeight": "normal", "color": "black"},
  "resolve": {"legend": {"color": "independent"}}
 },
 {"vconcat": [{
  "data": {"name": "c"}, "width": 288, "height": 195,
  "title": {"text": "Low Precision", "orient": "bottom", "anchor": "middle", "frame": "group", "dx": -1, "offset": 15, "font": "Liberation Serif", "fontSize": 23, "fontWeight": "bold", "color": "black"},
  "encoding": {
   "x": {"field": "x", "type": "quantitative", "scale": {"domain": [0, 18], "nice": false, "zero": false}, "axis": {"values": [0, 5, 10, 15], "title": "Episodes (x10³)"}},
   "color": {"field": "s", "type": "nominal", "scale": {"domain": ["Train", "Not in Test", "Test"], "range": ["#0072BD", "#EDB120", "#77AC30"]},
    "legend": {"title": null, "values": ["Train", "Test", "Not in Test"], "orient": "none", "legendX": 42, "legendY": -13, "columns": 2, "symbolSize": 100, "symbolStrokeWidth": 1.8, "symbolOpacity": 1,
     "symbolType": {"expr": "datum.value === 'Train' ? 'M-1,0L4.6,0M1.3,0A0.5,0.5 0 1,0 2.3,0A0.5,0.5 0 1,0 1.3,0Z' : datum.value === 'Test' ? 'M-1,0L4.6,0M1.3,-0.5L2.3,-0.5L2.3,0.5L1.3,0.5Z' : 'M-1,0L4.6,0M1.15,-0.45L2.45,-0.45L1.8,0.6Z'"},
     "symbolStrokeColor": {"expr": "datum.value === 'Train' ? '#0072BD' : datum.value === 'Test' ? '#77AC30' : '#EDB120'"},
     "symbolFillColor": {"expr": "datum.value === 'Train' ? '#0072BD' : datum.value === 'Test' ? '#77AC30' : '#EDB120'"},
     "labelFont": "DejaVu Sans", "labelFontSize": 11.5, "labelFontWeight": "bold", "labelColor": "black", "labelOffset": 23, "columnPadding": 24, "rowPadding": 5, "padding": 4, "fillColor": "rgba(255,255,255,0.85)", "strokeColor": "#cccccc", "cornerRadius": 3}}
  },
  "layer": [
   {"mark": {"type": "area", "opacity": 0.3}, "encoding": {"y": {"field": "l", "type": "quantitative", "title": "Counts", "stack": null, "scale": {"domain": [-5, 231], "nice": false, "zero": false}, "axis": {"values": [0, 50, 100, 150, 200]}}, "y2": {"field": "h"}}},
   {"mark": {"type": "line", "strokeWidth": 1.8}, "encoding": {"y": {"field": "y", "type": "quantitative", "title": "Counts"}}},
   {"transform": [{"filter": "datum.s === 'Train'"}], "mark": {"type": "point", "shape": "circle", "filled": true, "size": 45, "opacity": 1}, "encoding": {"y": {"field": "y", "type": "quantitative", "title": "Counts"}}},
   {"transform": [{"filter": "datum.s === 'Test'"}], "mark": {"type": "point", "shape": "square", "filled": true, "size": 45, "opacity": 1}, "encoding": {"y": {"field": "y", "type": "quantitative", "title": "Counts"}}},
   {"transform": [{"filter": "datum.s === 'Not in Test'"}], "mark": {"type": "point", "shape": "triangle-down", "filled": true, "size": 50, "opacity": 1}, "encoding": {"y": {"field": "y", "type": "quantitative", "title": "Counts"}}},
   {"data": {"values": [{"v": 7}]}, "mark": {"type": "rule", "strokeDash": [5, 3], "strokeWidth": 1.4}, "encoding": {"x": {"field": "v", "type": "quantitative"}, "color": {"value": "black"}}}
  ]}],
  "title": {"text": "(c)", "orient": "bottom", "anchor": "middle", "frame": "group", "dx": 44.6, "dy": -23, "offset": 0, "font": "Liberation Serif", "fontSize": 23, "fontWeight": "normal", "color": "black"},
  "resolve": {"legend": {"color": "independent"}}
 }
 ], "spacing": 6.5, "resolve": {"legend": {"color": "independent"}}},
{"hconcat": [
 {"vconcat": [{
  "data": {"name": "d"}, "width": 288, "height": 195,
  "title": {"text": "Oracle", "orient": "bottom", "anchor": "middle", "frame": "group", "dx": -22, "offset": 15, "font": "Liberation Serif", "fontSize": 23, "fontWeight": "bold", "color": "black"},
  "encoding": {
   "x": {"field": "x", "type": "quantitative", "scale": {"domain": [0, 18], "nice": false, "zero": false}, "axis": {"values": [0, 5, 10, 15], "title": "Episodes (x10³)"}},
   "color": {"field": "s", "type": "nominal", "scale": {"domain": ["Train", "Not in Test", "Test"], "range": ["#0072BD", "#EDB120", "#77AC30"]},
    "legend": {"title": null, "values": ["Train", "Test", "Not in Test"], "orient": "none", "legendX": 42, "legendY": -13, "columns": 2, "symbolSize": 100, "symbolStrokeWidth": 1.8, "symbolOpacity": 1,
     "symbolType": {"expr": "datum.value === 'Train' ? 'M-1,0L4.6,0M1.3,0A0.5,0.5 0 1,0 2.3,0A0.5,0.5 0 1,0 1.3,0Z' : datum.value === 'Test' ? 'M-1,0L4.6,0M1.3,-0.5L2.3,-0.5L2.3,0.5L1.3,0.5Z' : 'M-1,0L4.6,0M1.15,-0.45L2.45,-0.45L1.8,0.6Z'"},
     "symbolStrokeColor": {"expr": "datum.value === 'Train' ? '#0072BD' : datum.value === 'Test' ? '#77AC30' : '#EDB120'"},
     "symbolFillColor": {"expr": "datum.value === 'Train' ? '#0072BD' : datum.value === 'Test' ? '#77AC30' : '#EDB120'"},
     "labelFont": "DejaVu Sans", "labelFontSize": 11.5, "labelFontWeight": "bold", "labelColor": "black", "labelOffset": 23, "columnPadding": 24, "rowPadding": 5, "padding": 4, "fillColor": "rgba(255,255,255,0.85)", "strokeColor": "#cccccc", "cornerRadius": 3}}
  },
  "layer": [
   {"mark": {"type": "area", "opacity": 0.3}, "encoding": {"y": {"field": "l", "type": "quantitative", "title": "Counts", "stack": null, "scale": {"domain": [-5, 231], "nice": false, "zero": false}, "axis": {"values": [0, 50, 100, 150, 200]}}, "y2": {"field": "h"}}},
   {"mark": {"type": "line", "strokeWidth": 1.8}, "encoding": {"y": {"field": "y", "type": "quantitative", "title": "Counts"}}},
   {"transform": [{"filter": "datum.s === 'Train'"}], "mark": {"type": "point", "shape": "circle", "filled": true, "size": 45, "opacity": 1}, "encoding": {"y": {"field": "y", "type": "quantitative", "title": "Counts"}}},
   {"transform": [{"filter": "datum.s === 'Test'"}], "mark": {"type": "point", "shape": "square", "filled": true, "size": 45, "opacity": 1}, "encoding": {"y": {"field": "y", "type": "quantitative", "title": "Counts"}}},
   {"transform": [{"filter": "datum.s === 'Not in Test'"}], "mark": {"type": "point", "shape": "triangle-down", "filled": true, "size": 50, "opacity": 1}, "encoding": {"y": {"field": "y", "type": "quantitative", "title": "Counts"}}},
   {"data": {"values": [{"v": 7}]}, "mark": {"type": "rule", "strokeDash": [5, 3], "strokeWidth": 1.4}, "encoding": {"x": {"field": "v", "type": "quantitative"}, "color": {"value": "black"}}}
  ]}],
  "title": {"text": "(d)", "orient": "bottom", "anchor": "middle", "frame": "group", "dx": 45.5, "dy": -23, "offset": 0, "font": "Liberation Serif", "fontSize": 23, "fontWeight": "normal", "color": "black"},
  "resolve": {"legend": {"color": "independent"}}
 },
 {"vconcat": [{
  "data": {"name": "e"}, "width": 288, "height": 195,
  "title": {"text": "Random Goals", "orient": "bottom", "anchor": "middle", "frame": "group", "dx": -5.7, "offset": 15, "font": "Liberation Serif", "fontSize": 23, "fontWeight": "bold", "color": "black"},
  "encoding": {
   "x": {"field": "x", "type": "quantitative", "scale": {"domain": [0, 18], "nice": false, "zero": false}, "axis": {"values": [0, 5, 10, 15], "title": "Episodes (x10³)"}},
   "color": {"field": "s", "type": "nominal", "scale": {"domain": ["Train", "Not in Test", "Test"], "range": ["#0072BD", "#EDB120", "#77AC30"]},
    "legend": {"title": null, "values": ["Train", "Test", "Not in Test"], "orient": "none", "legendX": 42, "legendY": -13, "columns": 2, "symbolSize": 100, "symbolStrokeWidth": 1.8, "symbolOpacity": 1,
     "symbolType": {"expr": "datum.value === 'Train' ? 'M-1,0L4.6,0M1.3,0A0.5,0.5 0 1,0 2.3,0A0.5,0.5 0 1,0 1.3,0Z' : datum.value === 'Test' ? 'M-1,0L4.6,0M1.3,-0.5L2.3,-0.5L2.3,0.5L1.3,0.5Z' : 'M-1,0L4.6,0M1.15,-0.45L2.45,-0.45L1.8,0.6Z'"},
     "symbolStrokeColor": {"expr": "datum.value === 'Train' ? '#0072BD' : datum.value === 'Test' ? '#77AC30' : '#EDB120'"},
     "symbolFillColor": {"expr": "datum.value === 'Train' ? '#0072BD' : datum.value === 'Test' ? '#77AC30' : '#EDB120'"},
     "labelFont": "DejaVu Sans", "labelFontSize": 11.5, "labelFontWeight": "bold", "labelColor": "black", "labelOffset": 23, "columnPadding": 24, "rowPadding": 5, "padding": 4, "fillColor": "rgba(255,255,255,0.85)", "strokeColor": "#cccccc", "cornerRadius": 3}}
  },
  "layer": [
   {"mark": {"type": "area", "opacity": 0.3}, "encoding": {"y": {"field": "l", "type": "quantitative", "title": "Counts", "stack": null, "scale": {"domain": [-5, 231], "nice": false, "zero": false}, "axis": {"values": [0, 50, 100, 150, 200]}}, "y2": {"field": "h"}}},
   {"mark": {"type": "line", "strokeWidth": 1.8}, "encoding": {"y": {"field": "y", "type": "quantitative", "title": "Counts"}}},
   {"transform": [{"filter": "datum.s === 'Train'"}], "mark": {"type": "point", "shape": "circle", "filled": true, "size": 45, "opacity": 1}, "encoding": {"y": {"field": "y", "type": "quantitative", "title": "Counts"}}},
   {"transform": [{"filter": "datum.s === 'Test'"}], "mark": {"type": "point", "shape": "square", "filled": true, "size": 45, "opacity": 1}, "encoding": {"y": {"field": "y", "type": "quantitative", "title": "Counts"}}},
   {"transform": [{"filter": "datum.s === 'Not in Test'"}], "mark": {"type": "point", "shape": "triangle-down", "filled": true, "size": 50, "opacity": 1}, "encoding": {"y": {"field": "y", "type": "quantitative", "title": "Counts"}}},
   {"data": {"values": [{"v": 7}]}, "mark": {"type": "rule", "strokeDash": [5, 3], "strokeWidth": 1.4}, "encoding": {"x": {"field": "v", "type": "quantitative"}, "color": {"value": "black"}}}
  ]}],
  "title": {"text": "(e)", "orient": "bottom", "anchor": "middle", "frame": "group", "dx": 41.3, "dy": -23, "offset": 0, "font": "Liberation Serif", "fontSize": 23, "fontWeight": "normal", "color": "black"},
  "resolve": {"legend": {"color": "independent"}}
 }
 ], "spacing": 6.5, "resolve": {"legend": {"color": "independent"}}}
],
"spacing": 26, "center": true,
"resolve": {"legend": {"color": "independent"}}
}
